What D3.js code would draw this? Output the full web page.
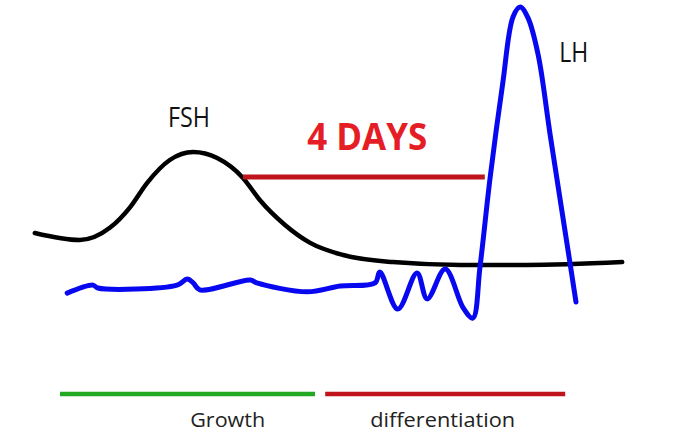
<!DOCTYPE html>
<html>
<head>
<meta charset="utf-8">
<script src="https://cdn.jsdelivr.net/npm/d3@7"></script>
<style>
  html, body { margin: 0; padding: 0; background: #fff; }
  text { font-family: 'Open Sans', 'Noto Sans', sans-serif; }
</style>
</head>
<body>
<div id="chart"></div>
<script>
// time (arbitrary units, 0-100) and hormone level (0-100)
const fshTime = [0.8, 8.3, 13.3, 16.7, 19.5, 23.3, 27.2, 31.2, 35.5, 38.3, 42.5, 46.7, 52.2, 60.5, 71.7, 82.8, 98.7];
const fshLevel = [27.2, 25.0, 28.8, 35.3, 42.8, 50.0, 52.5, 50.6, 44.4, 37.5, 29.7, 24.1, 20.3, 18.1, 17.2, 17.2, 18.1];

const lhTime = [6.2, 10.5, 11.3, 24.5, 26.2, 27.2, 28.3, 36.7, 37.8, 46.2, 51.7, 57.5, 58.3, 61.3, 64.5, 66.2, 69.2, 72.2, 73.8, 75.0, 76.7, 78.8, 80.5, 81.7, 83.0, 84.7, 86.7, 90.0, 91.0];
const lhLevel = [8.4, 10.9, 10.0, 10.9, 12.8, 11.6, 9.4, 12.5, 11.6, 8.8, 10.6, 11.6, 15.0, 3.4, 14.7, 6.6, 15.9, 3.8, 0.6, 16.6, 44.7, 74.1, 94.7, 97.8, 94.4, 82.8, 57.8, 17.8, 5.6];

// interval bar between FSH fall and LH surge
const intervalSpan = [35.5, 75.8];
const intervalLevel = 44.7;

// phases under the curves
const phaseNames = ['Growth', 'differentiation'];
const phaseStart = [5.0, 49.2];
const phaseEnd = [47.5, 89.2];
const phaseColors = ['#22a822', '#c0131b'];
const phaseLevel = -23.1;

const width = 683;
const height = 441;

const x = d3.scaleLinear().domain([0, 100]).range([30, 630]);
const y = d3.scaleLinear().domain([0, 100]).range([320, 0]);

const svg = d3.select('#chart')
  .append('svg')
  .attr('width', width)
  .attr('height', height);

const smoothLine = d3.line()
  .x(d => x(d[0]))
  .y(d => y(d[1]))
  .curve(d3.curveMonotoneX);

const line = d3.line()
  .x(d => x(d[0]))
  .y(d => y(d[1]))
  .curve(d3.curveCatmullRom.alpha(0.5));

// FSH curve
svg.append('path')
  .attr('d', smoothLine(d3.zip(fshTime, fshLevel)))
  .attr('fill', 'none')
  .attr('stroke', '#000')
  .attr('stroke-width', 4.5)
  .attr('stroke-linecap', 'round');

// 4 days bar
svg.append('line')
  .attr('x1', x(intervalSpan[0]))
  .attr('x2', x(intervalSpan[1]))
  .attr('y1', y(intervalLevel))
  .attr('y2', y(intervalLevel))
  .attr('stroke', '#c0131b')
  .attr('stroke-width', 5);

// LH curve
svg.append('path')
  .attr('d', line(d3.zip(lhTime, lhLevel)))
  .attr('fill', 'none')
  .attr('stroke', '#0808f0')
  .attr('stroke-width', 5)
  .attr('stroke-linejoin', 'round')
  .attr('stroke-linecap', 'round');

// phase bars
svg.selectAll('.phase')
  .data(phaseNames)
  .enter()
  .append('line')
  .attr('class', 'phase')
  .attr('x1', (d, i) => x(phaseStart[i]))
  .attr('x2', (d, i) => x(phaseEnd[i]))
  .attr('y1', y(phaseLevel))
  .attr('y2', y(phaseLevel))
  .attr('stroke', (d, i) => phaseColors[i])
  .attr('stroke-width', 4.5);

// labels
const labels = [
  { text: 'FSH', t: 23, v: 60.3, size: 28, w: 42, color: '#111', weight: 400 },
  { text: 'LH', t: 88.2, v: 80.6, size: 28, w: 29, color: '#111', weight: 400 },
  { text: '4 DAYS', t: 46.2, v: 53.1, size: 37, w: 120, color: '#e51d24', weight: 700 },
  { text: phaseNames[0], t: 26.7, v: -33.4, size: 20, w: 75, color: '#222', weight: 400 },
  { text: phaseNames[1], t: 56.7, v: -33.4, size: 20, w: 145, color: '#222', weight: 400 }
];

svg.selectAll('.label')
  .data(labels)
  .enter()
  .append('text')
  .attr('class', 'label')
  .attr('x', d => x(d.t))
  .attr('y', d => y(d.v))
  .attr('fill', d => d.color)
  .style('font-size', d => d.size + 'px')
  .style('font-weight', d => d.weight)
  .attr('textLength', d => d.w)
  .attr('lengthAdjust', 'spacingAndGlyphs')
  .text(d => d.text);
</script>
</body>
</html>
